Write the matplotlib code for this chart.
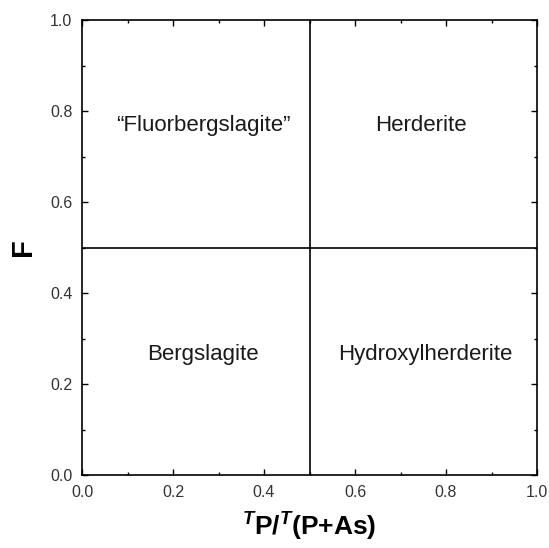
import matplotlib
matplotlib.use('Agg')
import matplotlib.pyplot as plt
from matplotlib.ticker import MultipleLocator

plt.rcParams['font.family'] = 'Liberation Sans'
plt.rcParams['mathtext.fontset'] = 'custom'
plt.rcParams['mathtext.rm'] = 'Liberation Sans:bold'
plt.rcParams['mathtext.it'] = 'Liberation Sans:bold:italic'
plt.rcParams['mathtext.bf'] = 'Liberation Sans:bold'

# field boundaries and labels
x_split = 0.5
y_split = 0.5
field_names = ['\u201cFluorbergslagite\u201d', 'Herderite', 'Bergslagite', 'Hydroxylherderite']
field_x = [0.266, 0.745, 0.265, 0.754]
field_y = [0.768, 0.768, 0.265, 0.265]

fig = plt.figure(figsize=(5.49, 5.48), dpi=100)
ax = fig.add_axes([0.1494, 0.1332, 0.8288, 0.8303])

ax.axvline(x_split, color='black', lw=1.2)
ax.axhline(y_split, color='black', lw=1.2)

for name, x, y in zip(field_names, field_x, field_y):
    ax.text(x, y, name, ha='center', va='center', fontsize=16, color='#1a1a1a')

ax.set_xlim(0, 1)
ax.set_ylim(0, 1)
ax.xaxis.set_major_locator(MultipleLocator(0.2))
ax.xaxis.set_minor_locator(MultipleLocator(0.1))
ax.yaxis.set_major_locator(MultipleLocator(0.2))
ax.yaxis.set_minor_locator(MultipleLocator(0.1))
ax.tick_params(which='both', direction='in', top=True, right=True, labelsize=11.5,
               color='black', labelcolor='#333333', pad=7)
ax.tick_params(which='major', length=4, width=1)
ax.tick_params(which='minor', length=2.5, width=1)
for s in ax.spines.values():
    s.set_linewidth(1.2)

ax.set_xlabel(r'$^{\mathit{T}}\mathrm{P/}^{\mathit{T}}\mathrm{(P{+}As)}$', fontsize=19, labelpad=8)
ax.set_ylabel('F', fontsize=21, fontweight='bold', labelpad=9)

plt.savefig('out.png', dpi=100)
